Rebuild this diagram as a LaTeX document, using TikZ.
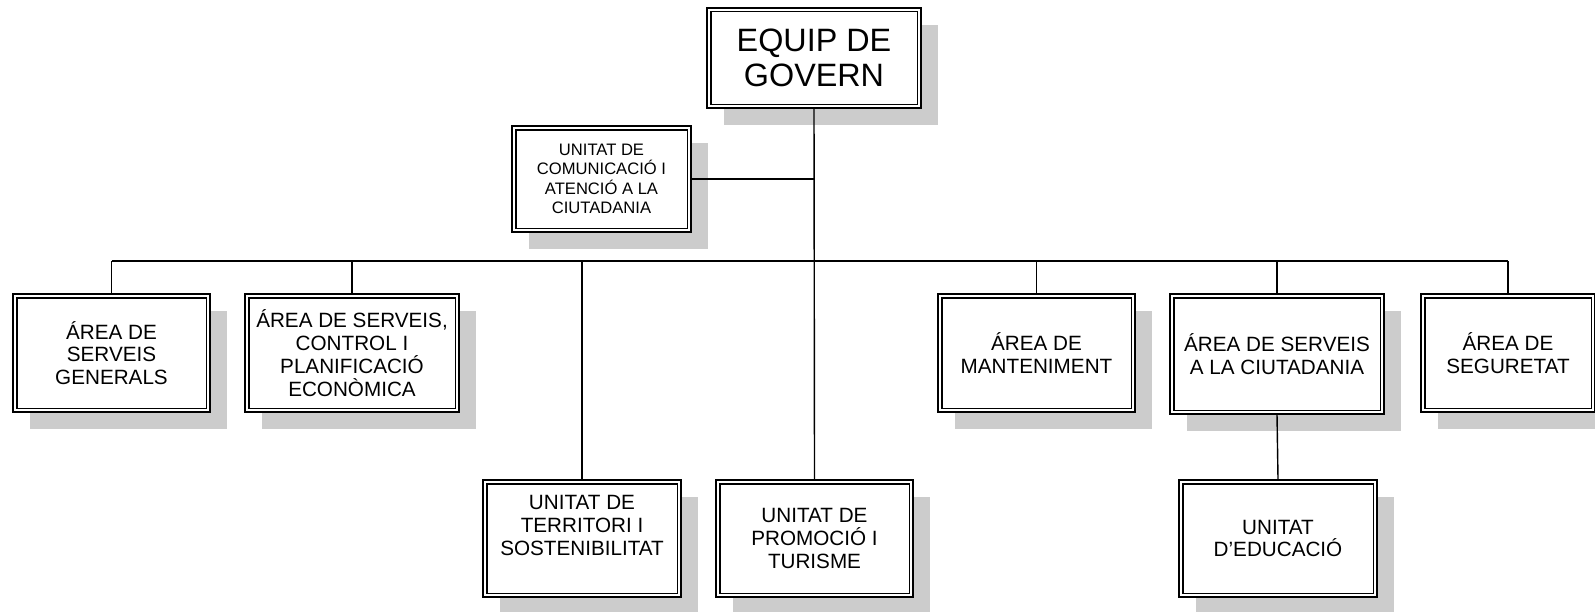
\documentclass[tikz,border=0pt]{standalone}
\usepackage{fontspec}
\setmainfont{Liberation Sans}
\usetikzlibrary{calc,shadows}

\begin{document}
\begin{tikzpicture}[x=0.025cm,y=-0.025cm,
	every node/.style={align=center,inner sep=0pt},
	orgbox/.style 2 args={draw,fill=white,line width=1.5pt,
		minimum width=#1*0.025cm,minimum height=#2*0.025cm,
		drop shadow={shadow xshift=0.425cm,shadow yshift=-0.425cm,fill=black!20,opacity=1},
		path picture={\draw[line width=0.8pt]
			([shift={(2.8pt,-2.8pt)}]path picture bounding box.north west) rectangle
			([shift={(-2.8pt,2.8pt)}]path picture bounding box.south east);}},
	bigtext/.style={font=\fontsize{23}{25}\selectfont},
	areatext/.style={font=\fontsize{14.7}{16.2}\selectfont},
	smalltext/.style={font=\fontsize{11.8}{13.7}\selectfont},
	link/.style={line width=1pt}]
\useasboundingbox (0,0) rectangle (1595,611);

% top
\node (gov) [orgbox={214}{100},bigtext] at (814,58) {EQUIP DE\\GOVERN};
\node (com) [orgbox={179}{106},smalltext] at (601.5,179) {UNITAT DE\\COMUNICACIÓ I\\ATENCIÓ A LA\\CIUTADANIA};

% areas
\node (gen) [orgbox={197}{118},areatext] at (111.5,353) {ÁREA DE\\SERVEIS\\GENERALS};
\node (ctl) [orgbox={214}{118},areatext] at (352,353) {ÁREA DE SERVEIS,\\CONTROL I\\PLANIFICACIÓ\\ECONÒMICA};
\node (man) [orgbox={197}{118},areatext] at (1036.5,353) {ÁREA DE\\MANTENIMENT};
\node (ciu) [orgbox={214}{120},areatext] at (1277,354) {ÁREA DE SERVEIS\\A LA CIUTADANIA};
\node (seg) [orgbox={174}{118},areatext] at (1508,353) {ÁREA DE\\SEGURETAT};

% units
\node (ter) [orgbox={198}{117},areatext,text depth=19pt] at (582,538.5) {UNITAT DE\\TERRITORI I\\SOSTENIBILITAT};
\node (pro) [orgbox={197}{117},areatext] at (814.5,538.5) {UNITAT DE\\PROMOCIÓ I\\TURISME};
\node (edu) [orgbox={198}{117},areatext] at (1278,538.5) {UNITAT\\D’EDUCACIÓ};

% connectors
\coordinate (busL) at (gen.north |- 0,261);
\coordinate (busR) at (seg.north |- 0,261);
\draw[link] (busL) -- (busR);
\draw[link] (gov.south) -- (pro.north);
\draw[link] (com.east) -- (com.east -| gov.south);
\draw[link] (busL) -- (gen.north);
\draw[link] (ctl.north |- busL) -- (ctl.north);
\draw[link] (ter.north |- busL) -- (ter.north);
\draw[link] (man.north |- busL) -- (man.north);
\draw[link] (ciu.north |- busL) -- (ciu.north);
\draw[link] (busR) -- (seg.north);
\draw[link] (ciu.south) -- (edu.north);
\end{tikzpicture}
\end{document}
